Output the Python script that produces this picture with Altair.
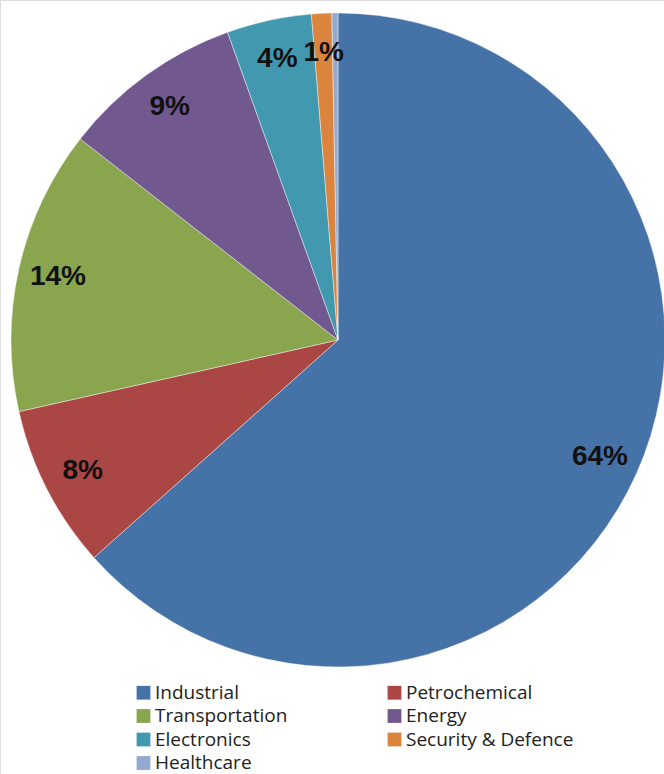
import altair as alt
import pandas as pd

categories = ["Industrial", "Petrochemical", "Transportation", "Energy",
              "Electronics", "Security & Defence", "Healthcare"]
values = [63.6, 8.1, 14.1, 9.0, 4.2, 1.0, 0.3]
labels = ["64%", "8%", "14%", "9%", "4%", "1%", ""]
colors = ["#4572A7", "#AA4643", "#89A54E", "#71588F", "#4198AF", "#DB843D", "#93A9CF"]

df = pd.DataFrame({
    "category": categories,
    "value": values,
    "label": labels,
    "order": list(range(len(categories))),
})

CX, CY, R = 338, 340, 327

base = alt.Chart(df).encode(
    theta=alt.Theta("value:Q", stack=True),
    order=alt.Order("order:Q", sort="ascending"),
)

pie = base.mark_arc(stroke="#ffffff", strokeWidth=0.6, strokeOpacity=0.7).encode(
    color=alt.Color(
        "category:N",
        scale=alt.Scale(domain=categories, range=colors),
        sort=categories,
        legend=alt.Legend(
            title=None,
            orient="none",
            legendX=134,
            legendY=683,
            columns=2,
            direction="horizontal",
            symbolType="square",
            symbolSize=190,
            symbolStrokeWidth=0,
            labelFont="Open Sans",
            labelFontSize=19,
            labelColor="#222222",
            labelOffset=2,
            rowPadding=3.5,
            columnPadding=97,
            labelLimit=300,
        ),
    ),
    x=alt.value(CX),
    y=alt.value(CY),
    radius=alt.value(R),
)

text = base.mark_text(
    font="Liberation Sans", fontWeight="bold", fontSize=28, color="#111111",
    align="center", baseline="middle",
).encode(
    text="label:N",
    x=alt.value(CX),
    y=alt.value(CY),
    radius=alt.value(287),
)

chart = alt.layer(pie, text).properties(
    width=664, height=774,
    autosize=alt.AutoSizeParams(type="none"),
    padding=0,
).configure_view(stroke=None).configure(background="#ffffff")

chart.save("out.html", embed_options={"renderer": "svg", "actions": False})
